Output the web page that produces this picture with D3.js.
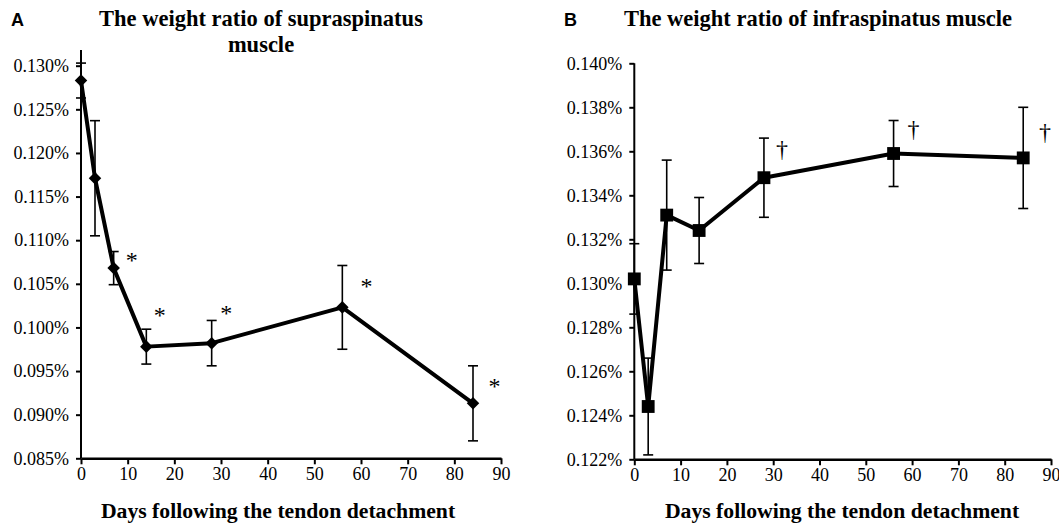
<!DOCTYPE html>
<html>
<head>
<meta charset="utf-8">
<script src="https://cdn.jsdelivr.net/npm/d3@7"></script>
<style>
  html, body { margin: 0; padding: 0; background: #fff; }
  svg { display: block; }
  .title { font-family: "Liberation Serif", "Times New Roman", serif; font-weight: bold; font-size: 22.5px; }
  .xtitle { font-family: "Liberation Serif", "Times New Roman", serif; font-weight: bold; font-size: 21.7px; }
  .panel { font-family: "Liberation Sans", Arial, sans-serif; font-weight: bold; font-size: 18px; }
  .mark { font-family: "Liberation Serif", "Times New Roman", serif; font-size: 24px; fill: #000; }
</style>
</head>
<body>
<svg id="chart"></svg>
<script>
// days after detachment (same for both panels)
const days = [0, 3, 7, 14, 28, 56, 84];

// A: supraspinatus weight ratio (%)
const supraValues = [0.1283, 0.1171, 0.1068, 0.0978, 0.0982, 0.1023, 0.0913];
const supraErr    = [0.0020, 0.0066, 0.0019, 0.0020, 0.0026, 0.0048, 0.0043];
const supraTicks  = [0.085, 0.090, 0.095, 0.100, 0.105, 0.110, 0.115, 0.120, 0.125, 0.130];
// asterisk annotations, in data units
const supraStars  = [[10.9, 0.1077], [16.9, 0.1014], [31.1, 0.1017], [61.2, 0.1047], [88.6, 0.0933]];

// B: infraspinatus weight ratio (%)
const infraValues = [0.1302, 0.1244, 0.1331, 0.1324, 0.1348, 0.1359, 0.1357];
const infraErr    = [0.0016, 0.0022, 0.0025, 0.0015, 0.0018, 0.0015, 0.0023];
const infraTicks  = [0.122, 0.124, 0.126, 0.128, 0.130, 0.132, 0.134, 0.136, 0.138, 0.140];
const infraDaggers = [[31.9, 0.1361], [60.3, 0.1370], [88.7, 0.1369]];

const xTicks = [0, 10, 20, 30, 40, 50, 60, 70, 80, 90];
const xLabel = 'Days following the tendon detachment';

const width = 1059, height = 524;
const svg = d3.select('#chart').attr('width', width).attr('height', height);

const pctFmt = d => d3.format('.3f')(d) + '%';
const serif = '"Liberation Serif", "Times New Roman", serif';

function drawPanel(opts) {
  const { values, err, yTicks, yDomain, xRange, yRange, axisTop, symbol, marks, markChar,
          titleLines, titleX, letter, letterX, xTitleX } = opts;

  const x = d3.scaleLinear().domain([0, 90]).range(xRange);
  const y = d3.scaleLinear().domain(yDomain).range(yRange);
  const g = svg.append('g');

  // axes
  const yAxis = g.append('g')
    .attr('transform', `translate(${xRange[0]},0)`)
    .call(d3.axisLeft(y).tickValues(yTicks).tickFormat(pctFmt).tickSize(5).tickSizeOuter(0).tickPadding(7))
    .attr('font-family', serif)
    .attr('font-size', 18);
  yAxis.select('.domain').remove();
  yAxis.selectAll('.tick line').attr('stroke-width', 2);
  g.append('line')
    .attr('x1', xRange[0]).attr('x2', xRange[0])
    .attr('y1', y(axisTop)).attr('y2', yRange[0])
    .attr('stroke', '#000').attr('stroke-width', 2);

  const xAxis = g.append('g')
    .attr('transform', `translate(0,${yRange[0]})`)
    .call(d3.axisBottom(x).tickValues(xTicks).tickSize(6).tickSizeOuter(0).tickPadding(3))
    .attr('font-family', serif)
    .attr('font-size', 18);
  xAxis.select('.domain').attr('stroke-width', 2.5);
  xAxis.selectAll('.tick line').attr('stroke-width', 2);

  // error bars
  const pts = days.map((d, i) => ({ d, v: values[i], e: err[i] }));
  const eb = g.append('g').attr('stroke', '#000').attr('stroke-width', 1.6);
  pts.forEach(p => {
    const cx = x(p.d);
    eb.append('line').attr('x1', cx).attr('x2', cx).attr('y1', y(p.v + p.e)).attr('y2', y(p.v - p.e));
    [p.v + p.e, p.v - p.e].forEach(v => {
      eb.append('line').attr('x1', cx - 5).attr('x2', cx + 5).attr('y1', y(v)).attr('y2', y(v));
    });
  });

  // line
  g.append('path')
    .datum(pts)
    .attr('fill', 'none')
    .attr('stroke', '#000')
    .attr('stroke-width', 4)
    .attr('stroke-linejoin', 'round')
    .attr('d', d3.line().x(p => x(p.d)).y(p => y(p.v)));

  // markers
  g.selectAll('.pt')
    .data(pts)
    .join('path')
    .attr('class', 'pt')
    .attr('transform', p => `translate(${x(p.d)},${y(p.v)})`)
    .attr('d', d3.symbol().type(symbol).size(symbol === d3.symbolSquare ? 165 : 100))
    .attr('fill', '#000');

  // significance marks
  g.selectAll('.mark')
    .data(marks)
    .join('text')
    .attr('class', 'mark')
    .attr('x', m => x(m[0]))
    .attr('y', m => y(m[1]))
    .attr('text-anchor', 'middle')
    .attr('dominant-baseline', 'central')
    .text(markChar);

  // titles
  const t = g.append('text').attr('class', 'title').attr('text-anchor', 'middle');
  titleLines.forEach((ln, i) => {
    t.append('tspan').attr('x', titleX).attr('y', 26 + i * 26).text(ln);
  });
  g.append('text').attr('class', 'panel').attr('x', letterX).attr('y', 26).text(letter);

  g.append('text')
    .attr('class', 'xtitle')
    .attr('x', xTitleX)
    .attr('y', 518)
    .attr('text-anchor', 'middle')
    .text(xLabel);
}

drawPanel({
  values: supraValues, err: supraErr, yTicks: supraTicks,
  yDomain: [0.085, 0.130], xRange: [81, 501], yRange: [458.3, 65.7], axisTop: 0.1318,
  symbol: d3.symbolDiamond2, marks: supraStars, markChar: '*',
  titleLines: ['The weight ratio of supraspinatus', 'muscle'], titleX: 261,
  letter: 'A', letterX: 11, xTitleX: 278
});

drawPanel({
  values: infraValues, err: infraErr, yTicks: infraTicks,
  yDomain: [0.122, 0.140], xRange: [634.3, 1051], yRange: [459.3, 63.3], axisTop: 0.140,
  symbol: d3.symbolSquare, marks: infraDaggers, markChar: '†',
  titleLines: ['The weight ratio of infraspinatus muscle'], titleX: 818,
  letter: 'B', letterX: 564, xTitleX: 842
});
</script>
</body>
</html>
